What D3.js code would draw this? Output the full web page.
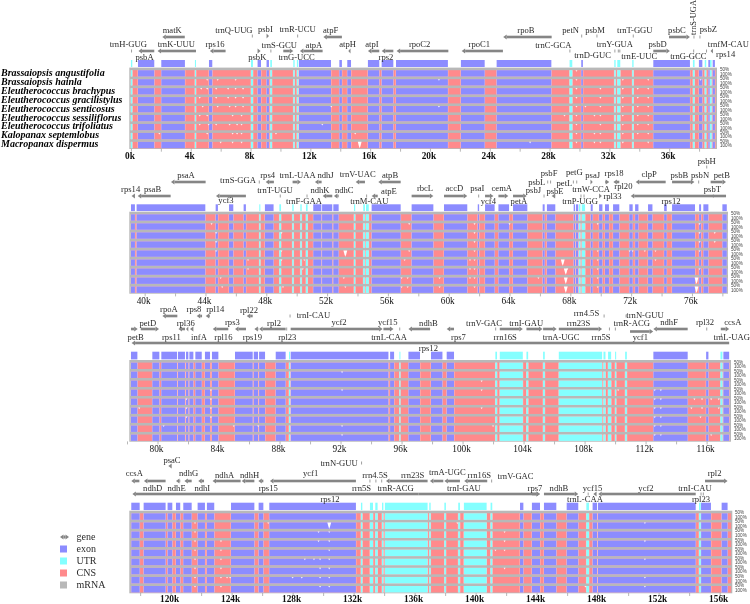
<!DOCTYPE html>
<html><head><meta charset="utf-8">
<script src="https://cdn.jsdelivr.net/npm/d3@7"></script>
<style>html,body{margin:0;padding:0;background:#fff}svg{display:block;filter:blur(.35px)}</style>
</head><body><div id="c"></div>
<script>
const species=["Brassaiopsis angustifolia","Brassaiopsis hainla","Eleutherococcus brachypus","Eleutherococcus gracilistylus","Eleutherococcus senticosus","Eleutherococcus sessiliflorus","Eleutherococcus trifoliatus","Kalopanax septemlobus","Macropanax dispermus"];
const legendItems=["gene","exon","UTR","CNS","mRNA"];
const exons1=[[.47,1.56],[2.03,3.61],[5.22,5.44],[8.47,8.7],[9.07,9.23],[11.24,13.38],[13.94,14.11],[14.47,14.72],[15.85,16.61],[16.77,17.55],[17.73,21.2],[22.07,23.66],[24.46,28.12],[30.12,30.23],[34.94,37.39],[37.99,38.22],[38.62,38.73],[38.91,39.06]];
const utrs1=[[0,.09],[4.28,4.35],[8.03,8.16],[9.32,9.43],[10.86,10.95],[11.1,11.19],[29.34,29.52],[32.33,32.42],[32.53,32.73],[33.53,33.62],[37.59,37.7],[38.38,38.48],[38.73,38.84]];
const exons2=[[39.1,39.36],[39.47,43.99],[44.67,44.82],[45.55,45.83],[46.51,46.66],[47.91,48.48],[51.09,51.62],[51.67,52.34],[52.41,52.76],[54.93,56.84],[57.56,58.99],[59.69,61.22],[61.91,62],[62.39,63.02],[63.27,63.97],[64.23,65.17],[66.18,66.31],[66.46,67.01],[68.22,68.31],[68.37,68.52],[69.34,69.47],[69.89,70.11],[70.28,70.54],[70.81,71.22],[71.88,72.1],[72.26,72.48],[73.11,73.4],[74.17,74.34],[74.69,76.2],[76.47,76.6],[76.75,77.08],[78,78.29]];
const utrs2=[[47.54,47.61],[48.86,48.97],[49.71,49.8],[50.24,50.33],[50.61,50.72],[53.77,53.85],[54.38,54.49],[54.56,54.74],[68.57,68.66],[68.75,68.97]];
const exons3=[[78.26,78.68],[79.66,80.12],[80.25,81.28],[81.34,81.8],[81.87,82.02],[82.09,82.35],[82.48,82.9],[83.11,83.44],[83.57,83.99],[85.08,86.24],[86.31,86.59],[86.66,87.05],[87.75,88.4],[88.73,95.14],[95.25,95.51],[96.45,97.21],[97.93,98.68],[98.96,99.44],[112.51,114.76],[115.97,116.12],[117.1,117.48]];
const utrs3=[[88.62,88.69],[95.86,95.92],[102.15,102.26],[102.44,103.95],[104.19,104.3],[105.28,105.39],[106.31,109.15],[109.24,109.37],[109.54,109.74],[110,110.07],[110.66,110.77],[116.91,117.04]];
const exons4=[[117.42,117.97],[118.23,119.67],[119.8,120.11],[120.35,120.63],[120.83,121.38],[121.77,122.25],[122.38,122.86],[123.96,125.49],[125.77,126.08],[126.47,132.15],[142.91,143.13],[143.69,144.22],[144.48,145.29],[145.97,146.73],[147.67,147.96],[148.02,154.43],[154.78,155.43],[156.13,156.52]];
const utrs4=[[132.48,132.57],[133.07,133.27],[133.42,133.57],[133.86,133.95],[134.05,136.85],[136.96,137.05],[137.95,138.05],[138.86,138.97],[139.23,140.72],[140.98,141.09],[147.26,147.43],[154.65,154.76]];
// small dips of the conservation curve: one list per species
const dips1=[[29.8],[5.1,5.8,7,20.6,29.8,32.9,34.6,38.1],[4.7,5.1,5.7,6.5,7,7.5,29.8,31.4,32.9,33.9,34.6],[4.6,5.7,6.5,7,7.5,29.8,31.4,32.9,33.9,34.6],[4.8,5.8,6.6,7,7.5,13.4,20.6,29.8,30.4,31.4,32.9,33.9,34.6],[4.6,5.1,6.8,7.4,29,29.8,31,31.4,32.9,33.9,34.6],[4.6,5.2,5.7,6.6,7.1,7.4,12.8,29.8,31.4,32.9,33.9,34.6],[1.9,5.1,6.8,7.1,7.4,9.7,15,29.8,31,31.4,32.9,33.9,34.6],[6,6.8,7.4,26.7,29.8,31,31.4,32.9,34.6]];
const dips2=[[],[44.4,57.4,61.7,64,69.8,76.5],[44.7,49,61.7,76.5,77.5],[44.7,61.7,76.5,77.5],[44.7,49,57.4,61.7,69.8,71.9,72.1,72.9,73.6,76.5],[46.8,49,50.5,57.1,61.4,61.7,69.8,73.6],[46.8,50.4,61.4,61.7,67.8,69.8,76.5],[45,53.1,56.9,57.3,59.4,61.4,61.7,65.9,69.8],[45.1,49.1,53.2,56.9,57.3,59.4,61.7,69.8]];
const dips3=[[],[92.1],[101.25],[83.5,92.1,101.25,110.2,112.6,113],[81.9,83.5,112.6,113,115.2,115.7,116.3,116.8],[78.8,81.9,83.5,101.25,112.6,113,115,115.7,116.8],[81.9,83.5,112.6,113,115.6],[80.4,85,86.6,92.1,102,112.6,113],[92.1,112.6,113,116.3]];
const dips4=[[],[121.6,126.4,138.8,151.1],[121.6,129.7,130.4,141.9],[121.6,123.3,129.7,130.4,141.9,151.1],[121.6,123.3,130.4,141.3,141.9],[121.6,123.3,128.8,129.4,129.8,130.4,151.1],[121.6,123.3,129.8,130.4,141.9],[121.6,123.3,123.7,123.9,128,128.6,129.8,130.4,151.1],[121.6,123.3,129.8,130.4,147.2,151.1]];
const gaps1=[[8,15.3]],gaps2=[[4,53.2],[5,67.5],[6,67.7],[7,67.7],[8,67.7],[7,76.3],[8,76.3]],gaps3=[],gaps4=[[1,130.4]];
// name, start, end, strand, arrow y, label kb, label y
const genes1=[["matK",2.1,3.6,-1,37,2.76,30],["trnH-GUG",.04,.04,0,51,-.18,44],["psbA",.5,1.56,-1,51,.91,57],["trnK-UUU",1.78,4.35,-1,51,3.03,44],["rps16",5.28,6.33,-1,51,5.62,44],["trnQ-UUG",8.12,8.12,0,36,6.89,30],["psbK",8.47,8.67,1,51,8.45,57],["psbI",9.07,9.23,1,36,8.99,29],["trnS-GCU",9.36,9.36,0,51,9.92,45],["trnG-UCC",10.19,10.86,1,51,11.08,57],["trnR-UCU",11.15,11.15,0,36,11.15,29],["atpA",11.3,12.82,-1,51,12.24,45],["atpF",12.87,14.11,-1,37,13.36,30],["atpH",14.54,14.67,-1,51,14.49,44],["atpI",15.85,16.61,-1,51,16.12,44],["rps2",16.77,17.55,-1,51,17.06,57],["rpoC2",17.77,21.23,-1,51,19.31,44],["rpoC1",22.12,24.88,-1,51,23.3,44],["rpoB",24.9,28.14,-1,37,26.42,30],["trnC-GCA",29.36,29.36,0,51,28.25,45],["petN",30.15,30.15,0,36,29.41,30],["trnD-GUC",32.37,32.37,0,51,30.88,55],["psbM",31.17,31.17,0,36,31.04,30],["trnY-GUA",32.6,32.6,0,51,32.37,44],["trnE-UUC",32.7,32.7,0,51,34,56],["trnT-GGU",33.6,33.6,0,36,33.7,30],["psbD",34.94,36.05,1,51,35.23,44],["psbC",35.99,37.39,1,37,36.52,30],["trnG-GCC",37.64,37.64,0,51,37.28,56],["psbZ",38.06,38.06,0,37,38.62,29],["trnfM-CAU",38.5,38.5,0,51,39.96,44],["rps14",38.77,38.93,-1,51,39.78,54]];
const genes2=[["rps14",39.14,39.36,-1,196,39.08,189],["psaB",39.54,41.71,-1,196,40.52,189],["psaA",41.73,44.01,-1,182,42.72,175],["ycf3",44.69,46.66,-1,196,45.35,200],["trnS-GGA",47.54,47.54,0,182,46.14,180],["rps4",47.96,48.5,-1,182,48.09,175],["trnT-UGU",48.92,48.92,0,196,48.57,190],["trnL-UAA",49.73,50.28,1,182,50.06,175],["trnF-GAA",50.68,50.68,0,196,50.48,201],["ndhJ",51.2,51.64,-1,182,51.9,175],["ndhK",51.71,52.34,-1,196,51.53,190],["ndhC",52.45,52.76,-1,196,53.13,190],["trnV-UAC",53.88,54.49,-1,182,54.01,174],["trnM-CAU",54.6,54.6,0,196,54.78,201],["atpE",54.93,55.33,-1,196,56.07,191],["atpB",55.37,56.84,-1,182,56.14,175],["rbcL",57.56,58.99,1,196,58.44,188],["accD",59.69,61.22,1,196,60.37,188],["psaI",61.97,61.97,0,196,61.88,188],["ycf4",62.39,62.94,1,196,62.61,201],["cemA",63.27,63.92,1,196,63.49,188],["petA",64.23,65.13,1,196,64.62,201],["psbJ",66.27,66.27,0,196,65.57,190],["psbL",66.51,66.51,0,182,65.79,182],["psbF",66.7,66.7,0,182,66.6,173],["psbE",66.77,67.01,-1,196,66.99,191],["petL",68.2,68.2,0,182,67.61,183],["petG",68.42,68.42,0,182,68.26,172],["trnW-CCA",68.9,68.9,0,196,69.36,189],["trnP-UGG",68.7,68.7,0,196,68.64,201],["psaJ",69.34,69.47,1,182,69.47,175],["rpl33",69.89,70.07,1,196,70.77,196],["rps18",70.28,70.56,1,182,70.88,173],["rpl20",70.83,71.22,-1,182,71.49,186],["clpP",72.3,74.27,-1,182,73.18,174],["rps12",71.97,78.24,-1,196,74.62,201],["psbB",74.69,76.16,1,182,75.17,175],["psbN",76.44,76.44,0,182,76.53,175],["psbT",77.41,77.41,0,196,77.34,189],["psbH",76.97,76.97,0,167,76.97,161],["petB",77.23,78.24,1,182,77.96,175]];
const genes3=[["petB",78.26,78.7,1,329,78.57,337],["petD",78.9,80.1,1,329,79.36,323],["rpoA",80.32,81.3,-1,316,80.75,309],["rps11",81.37,81.8,-1,329,80.91,337],["rps8",82.57,82.92,-1,316,82.39,309],["rpl14",83.16,83.44,-1,316,83.79,309],["rpl36",81.87,82.02,-1,329,81.85,323],["infA",82.13,82.35,-1,329,82.72,337],["rpl16",83.62,84.64,-1,329,84.32,337],["rps3",85.08,85.8,-1,329,84.91,322],["rpl22",85.85,86.24,-1,316,86,310],["rps19",86.35,86.61,-1,329,86.22,337],["rpl2",86.66,88.4,-1,329,87.64,323],["rpl23",88.47,88.47,0,329,88.51,337],["trnI-CAU",88.69,88.69,0,316,90.22,315.5],["ycf2",88.73,94.76,1,329,91.9,322],["ycf15",94.81,95.47,1,329,95.09,322],["trnL-CAA",95.88,95.88,0,329,95.18,337],["rps12",78.3,117.48,-1,343,97.76,348],["ndhB",96.45,97.87,-1,329,97.76,323],["rps7",98.96,99.44,-1,329,99.73,337],["trnV-GAC",102.17,102.17,0,329,101.41,323],["rrn16S",102.44,103.95,1,329,102.79,337],["trnI-GAU",104.19,105.24,1,329,104.17,323],["trnA-UGC",105.28,106.17,1,329,106.46,337],["rrn23S",106.31,109.15,1,329,107.6,323],["rrn4.5S",109.28,109.28,0,316,108.12,313],["rrn5S",109.63,109.63,0,329,109.08,337],["trnR-ACG",110.02,110.02,0,329,111.09,323],["trnN-GUU",110.72,110.72,0,316,111.96,315],["ycf1",110.98,112.5,1,331.5,111.66,337],["ndhF",112.51,114.76,-1,329,113.54,322],["rpl32",116.01,116.01,0,329,115.9,322],["ccsA",116.93,117.48,1,329,117.72,322],["trnL-UAG",116.97,116.97,0,335,117.65,337]];
const genes4=[["ccsA",117.42,117.95,-1,481,117.62,473.5],["ndhD",118.25,119.67,-1,481,118.82,488],["psaC",119.85,120.07,-1,466,120.09,460.5],["ndhE",120.35,120.63,-1,481,120.39,488],["ndhG",120.9,121.38,-1,481,121.18,473.5],["ndhI",121.81,122.19,-1,481,122.08,488],["ndhA",122.75,124.59,-1,481,123.54,475],["ndhH",124.66,125.49,-1,481,125.18,475],["rps15",125.75,126.08,-1,481,126.4,488],["ycf1",126.51,132.15,-1,481,129.18,473.5],["trnN-GUU",132.52,132.52,0,463,131.04,463],["rrn5S",133.07,133.07,0,481,132.52,488],["rps12",117.49,136.24,-1,494,130.45,499],["",136.24,144.22,1,494,0,0],["rrn4.5S",133.46,133.46,0,481,133.4,475],["rrn23S",134.12,136.85,-1,481,135.87,475],["trnR-ACG",133.84,133.84,0,481,134.75,488],["trnA-UGC",137,137.88,-1,481,138.14,472],["trnI-GAU",137.95,138.97,-1,481,139.23,488],["rrn16S",139.25,140.76,-1,481,140.24,475],["trnV-GAC",141.05,141.05,0,481,142.62,476],["rps7",143.69,144.22,1,494,143.89,488],["ndhB",144.48,146.73,1,494,145.46,488],["trnL-CAA",147.38,147.38,0,494,147.17,499.5],["ycf15",147.72,147.93,-1,494,147.67,488],["ycf2",148.04,154.43,-1,494,151.17,488],["trnI-CAU",154.93,154.93,0,494,154.38,488],["rpl23",154.78,154.78,0,494,154.78,499.5],["rpl2",155.04,156.52,1,481,155.67,473.5]];
const tickStarts=[0,40,78,118],tickEnds=[38,78,116,156];

const panels=[
 {dom:[-.11,39.2],rng:[129.3,717],top:67.6,bottom:149,stripTop:60,exons:exons1,utrs:utrs1,dips:dips1,gaps:gaps1,genes:genes1,bold:true,pct:720,pad:1.2},
 {dom:[38.99,78.37],rng:[129.3,728],top:211.7,bottom:293.7,stripTop:204.3,exons:exons2,utrs:utrs2,dips:dips2,gaps:gaps2,genes:genes2,bold:false,pct:731,pad:1.2},
 {dom:[78.15,117.6],rng:[129.3,731],top:360,bottom:441.7,stripTop:351.7,exons:exons3,utrs:utrs3,dips:dips3,gaps:gaps3,genes:genes3,bold:false,pct:734,pad:1.2},
 {dom:[117.29,156.83],rng:[129.3,732.3],top:510.7,bottom:593.3,stripTop:502.7,exons:exons4,utrs:utrs4,dips:dips4,gaps:gaps4,genes:genes4,bold:true,pct:735,pad:-.4}
];
const C={exon:"#8c8cff",utr:"#84ffff",cns:"#ff8a8c",gray:"#b8b8b8",gene:"#858585",text:"#2b2b2b"};
const W=750,H=604,serif="'Liberation Serif','Times New Roman',serif";
const svg=d3.select("#c").append("svg").attr("width",W).attr("height",H).attr("viewBox",`0 0 ${W} ${H}`);
svg.append("rect").attr("width",W).attr("height",H).attr("fill","#fff");

function arrow(g,x0,x1,y,strand,color){
  color=color||C.gene;
  if(strand===0){g.append("path").attr("d",`M${x0},${y-1.5}V${y+1.5}`).attr("stroke",color).attr("stroke-width",.8).attr("fill","none");return;}
  const h=Math.min(3.5,Math.max(2.2,Math.abs(x1-x0)));
  if(strand>0){
    if(x1-x0>h) g.append("rect").attr("x",x0).attr("y",y-1.3).attr("width",x1-x0-h).attr("height",2.6).attr("fill",color);
    g.append("path").attr("d",`M${x1-h},${y-2.6}L${x1},${y}L${x1-h},${y+2.6}Z`).attr("fill",color);
  }else{
    if(x1-x0>h) g.append("rect").attr("x",x0+h).attr("y",y-1.3).attr("width",x1-x0-h).attr("height",2.6).attr("fill",color);
    g.append("path").attr("d",`M${x0+h},${y-2.6}L${x0},${y}L${x0+h},${y+2.6}Z`).attr("fill",color);
  }
}

panels.forEach(p=>{
  const x=d3.scaleLinear().domain(p.dom).range(p.rng);
  const g=svg.append("g");
  const rowH=(p.bottom-p.top-.8)/9;
  const y=d3.scaleBand().domain(d3.range(9)).range([p.top,p.bottom-.8]);
  const cL=p.rng[0]+1.6,cR=p.rng[1]-1.2;
  const strip=g.append("g");
  [["exon",p.exons],["utr",p.utrs]].forEach(([k,arr])=>{
    strip.selectAll(null).data(arr).join("rect")
      .attr("x",d=>x(d[0])).attr("width",d=>Math.max(1,x(d[1])-x(d[0])))
      .attr("y",p.stripTop).attr("height",p.top-p.stripTop-.6).attr("fill",C[k]);
  });
  g.append("rect").attr("x",p.rng[0]).attr("y",p.top).attr("width",p.rng[1]-p.rng[0]).attr("height",p.bottom-p.top).attr("fill",C.gray);
  const rows=g.selectAll(null).data(d3.range(9)).join("g").attr("transform",i=>`translate(0,${y(i)})`);
  const top=2.6,bh=rowH-top;
  rows.append("rect").attr("x",cL).attr("y",top).attr("width",cR-cL).attr("height",bh).attr("fill",C.cns);
  [["exon",p.exons],["utr",p.utrs]].forEach(([k,arr])=>{
    rows.selectAll(null).data(arr).join("rect")
      .attr("x",d=>x(d[0])-.4).attr("width",d=>Math.max(1,x(d[1])-x(d[0])+.8))
      .attr("y",top).attr("height",bh).attr("fill","#fff").attr("opacity",.55);
    rows.selectAll(null).data(arr).join("rect")
      .attr("x",d=>x(d[0])).attr("width",d=>Math.max(1,x(d[1])-x(d[0])))
      .attr("y",top).attr("height",bh).attr("fill",C[k]);
  });
  rows.each(function(i){
    d3.select(this).selectAll(null).data(p.dips[i]).join("path")
      .attr("d",k=>{const c=x(k);return `M${c-1},${top}L${c},${top+1.6}L${c+1},${top}Z`;})
      .attr("fill","#fff").attr("opacity",.9);
  });
  g.selectAll(null).data(p.gaps).join("path")
    .attr("d",([s,k])=>{const c=x(k),t=y(s)+top;return `M${c-1.9},${t}L${c+1.9},${t}L${c+.9},${t+bh*.6}L${c},${t+bh}L${c-.9},${t+bh*.6}Z`;})
    .attr("fill","#fff");
  const pct=g.append("g").attr("font-family","'Liberation Sans',sans-serif").attr("font-size",4.6).attr("fill","#444");
  d3.range(9).forEach(i=>{
    pct.append("text").attr("x",p.pct).attr("y",y(i)+3.6).text("50%");
    pct.append("text").attr("x",p.pct).attr("y",y(i)+8.2).text("100%");
  });
  const idx=panels.indexOf(p);
  const ax=d3.axisBottom(x).tickValues(d3.range(tickStarts[idx],tickEnds[idx]+1,2)).tickSize(3).tickPadding(p.pad)
     .tickFormat(d=>d%4===0?d+"k":"");
  const ag=g.append("g").attr("transform",`translate(0,${p.bottom-.3})`).call(ax);
  ag.select(".domain").remove();
  ag.selectAll(".tick line").attr("stroke","#999").attr("stroke-width",.7);
  ag.selectAll("text").attr("font-family",serif).attr("font-size",9.3).attr("font-weight",p.bold?"bold":"normal").attr("fill","#111").attr("dx",-1.5);
  const ge=g.append("g");
  p.genes.forEach(d=>{
    arrow(ge,x(d[1]),x(d[2]),d[4],d[3]);
    if(d[0]) ge.append("text").attr("x",x(d[5])).attr("y",d[6]).attr("dy",".32em").attr("text-anchor","middle")
      .attr("font-family",serif).attr("font-size",8.6).attr("fill",C.text).text(d[0]);
  });
});

const xTop=d3.scaleLinear().domain(panels[0].dom).range(panels[0].rng);
arrow(svg.append("g"),xTop(37.66),xTop(37.66),37,0);
svg.append("text").attr("transform",`translate(${xTop(37.66)-1},17.5) rotate(-90)`).attr("dy",".32em").attr("text-anchor","middle")
  .attr("font-family",serif).attr("font-size",8.4).attr("fill",C.text).text("trnS-UGA");

const ySp=d3.scaleLinear().domain([0,8]).range([73,144]);
svg.append("g").selectAll("text").data(species).join("text")
  .attr("x",1).attr("y",(d,i)=>ySp(i)).attr("dy",".32em")
  .attr("font-family",serif).attr("font-size",10).attr("font-style","italic").attr("font-weight","bold").attr("fill","#000").text(d=>d);

const yLeg=d3.scalePoint().domain(legendItems).range([537,585]);
const legColors={exon:C.exon,UTR:C.utr,CNS:C.cns,mRNA:C.gray};
const lg=svg.append("g");
legendItems.forEach(n=>{
  if(n==="gene"){arrow(lg,60,65,yLeg(n),-1);arrow(lg,64,69,yLeg(n),1);}
  else lg.append("rect").attr("x",60).attr("y",yLeg(n)-3.5).attr("width",7).attr("height",7).attr("fill",legColors[n]);
  lg.append("text").attr("x",76.5).attr("y",yLeg(n)).attr("dy",".32em").attr("font-family",serif).attr("font-size",10).attr("fill",C.text).text(n);
});
</script></body></html>
